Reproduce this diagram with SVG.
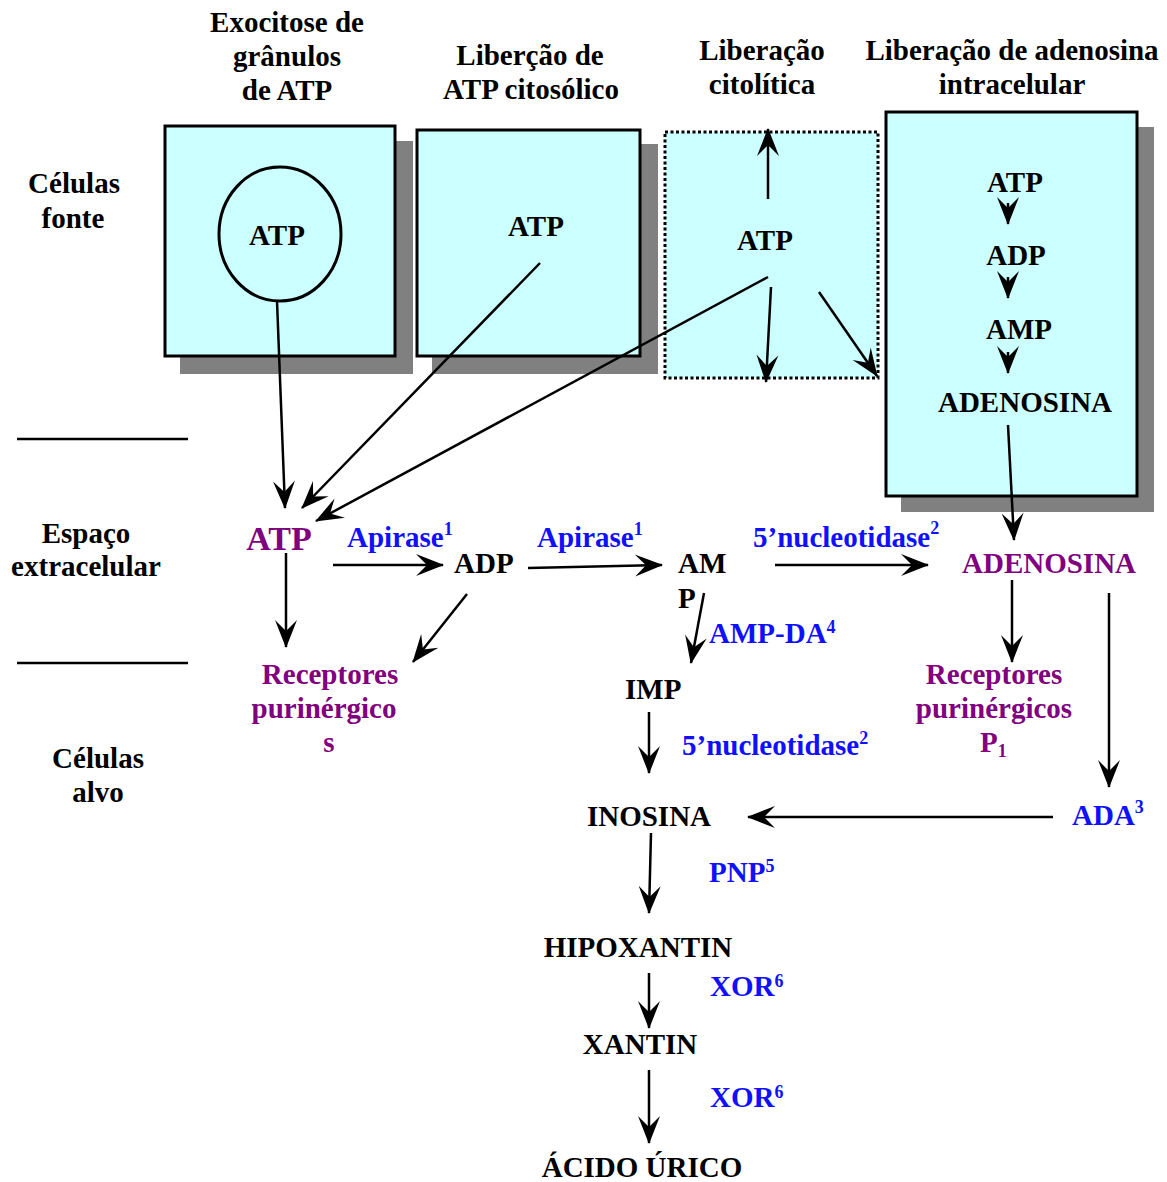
<svg xmlns="http://www.w3.org/2000/svg" width="1167" height="1182" viewBox="0 0 1167 1182">
<defs>
<style>
text{font-family:"Liberation Serif","Times New Roman",serif;font-weight:bold;font-size:29px;fill:#000}
.c{text-anchor:middle}
.b{fill:#1010ff}
.p{fill:#800080}
.sup{font-size:18px}
.box{fill:#ccffff;stroke:#000;stroke-width:3}
.sh{fill:#808080}
.ln{stroke:#000;stroke-width:2.5;fill:none}
.ar{stroke:#000;stroke-width:2.5;fill:none;marker-end:url(#ah)}
</style>
<marker id="ah" markerUnits="userSpaceOnUse" viewBox="-30 -13 32 26" refX="0" refY="0" markerWidth="32" markerHeight="26" orient="auto">
<path d="M1,0 L-27,-11 L-16,0 L-27,11 Z" fill="#000"/>
</marker>
</defs>

<g id="headers">
<text class="c" x="287" y="32">Exocitose de</text>
<text class="c" x="287" y="66">grânulos</text>
<text class="c" x="287" y="100">de ATP</text>
<text class="c" x="530" y="65">Liberção de</text>
<text class="c" x="531" y="99">ATP citosólico</text>
<text class="c" x="762" y="60">Liberação</text>
<text class="c" x="762" y="94">citolítica</text>
<text class="c" x="1012" y="60">Liberação de adenosina</text>
<text class="c" x="1012" y="94">intracelular</text>
</g>

<g id="zone-labels">
<text class="c" x="74" y="193">Células</text>
<text class="c" x="73" y="228">fonte</text>
<text class="c" x="86" y="543">Espaço</text>
<text class="c" x="86" y="576">extracelular</text>
<text class="c" x="98" y="768">Células</text>
<text class="c" x="98" y="802">alvo</text>
<line class="ln" x1="17" y1="439" x2="188" y2="439"/>
<line class="ln" x1="17" y1="663" x2="188" y2="663"/>
</g>

<g id="box-exocitose">
<rect class="sh" x="180" y="141" width="233" height="233"/>
<rect class="box" x="165" y="126" width="230" height="230"/>
<ellipse cx="280" cy="234" rx="61" ry="67" fill="#ccffff" stroke="#000" stroke-width="3"/>
<text class="c" x="277" y="245">ATP</text>
</g>

<g id="box-citosolico">
<rect class="sh" x="432" y="144" width="226" height="230"/>
<rect class="box" x="417" y="130" width="223" height="226"/>
<text class="c" x="536" y="236">ATP</text>
</g>

<g id="box-citolitica">
<rect x="665" y="132" width="213" height="246" fill="#ccffff" stroke="#000" stroke-width="3" stroke-dasharray="3 2.5"/>
<text class="c" x="765" y="250">ATP</text>
</g>

<g id="box-adenosina-intracelular">
<rect class="sh" x="901" y="127" width="253" height="385"/>
<rect class="box" x="886" y="112" width="251" height="384"/>
<text class="c" x="1015" y="192">ATP</text>
<text class="c" x="1016" y="265">ADP</text>
<text class="c" x="1019" y="339">AMP</text>
<text class="c" x="1025" y="412">ADENOSINA</text>
</g>

<g id="extracellular">
<text class="c p" x="279" y="550" style="font-size:34px">ATP</text>
<text class="b" x="347" y="547">Apirase<tspan class="sup" dy="-12">1</tspan></text>
<text x="454" y="573">ADP</text>
<text class="b" x="537" y="547">Apirase<tspan class="sup" dy="-12">1</tspan></text>
<text x="678" y="573">AM</text>
<text x="678" y="608">P</text>
<text class="b" x="753" y="547">5’nucleotidase<tspan class="sup" dy="-13">2</tspan></text>
<text class="p" x="962" y="573">ADENOSINA</text>
</g>

<g id="receptores-p2">
<text class="c p" x="330" y="684">Receptores</text>
<text class="c p" x="324" y="718">purinérgico</text>
<text class="c p" x="329" y="752">s</text>
</g>

<g id="receptores-p1">
<text class="c p" x="994" y="684">Receptores</text>
<text class="c p" x="994" y="718">purinérgicos</text>
<text class="p" x="980" y="752">P<tspan class="sup" dy="5">1</tspan></text>
</g>

<g id="target-pathway">
<text class="b" x="709" y="643">AMP-DA<tspan class="sup" dy="-10">4</tspan></text>
<text x="625" y="699">IMP</text>
<text class="b" x="682" y="755">5’nucleotidase<tspan class="sup" dy="-11">2</tspan></text>
<text class="b" x="1072" y="825">ADA<tspan class="sup" dy="-12">3</tspan></text>
<text class="c" x="649" y="826">INOSINA</text>
<text class="b" x="709" y="882">PNP<tspan class="sup" dy="-10">5</tspan></text>
<text class="c" x="638" y="957">HIPOXANTIN</text>
<text class="b" x="710" y="996">XOR<tspan class="sup" dy="-9">6</tspan></text>
<text class="c" x="640" y="1054">XANTIN</text>
<text class="b" x="710" y="1107">XOR<tspan class="sup" dy="-9">6</tspan></text>
<text class="c" x="642" y="1177">ÁCIDO ÚRICO</text>
</g>

<g id="connectors">
<line class="ar" x1="277" y1="301" x2="285" y2="508"/>
<line class="ar" x1="540" y1="263" x2="302" y2="508"/>
<line class="ar" x1="768" y1="277" x2="316" y2="521"/>
<line class="ar" x1="768" y1="199" x2="768" y2="129"/>
<line class="ar" x1="771" y1="287" x2="766" y2="382"/>
<line class="ar" x1="819" y1="292" x2="877" y2="376"/>
<line class="ar" x1="1008" y1="203" x2="1008" y2="224"/>
<line class="ar" x1="1008" y1="277" x2="1008" y2="298"/>
<line class="ar" x1="1008" y1="352" x2="1008" y2="373"/>
<line class="ar" x1="1008" y1="425" x2="1014" y2="540"/>
<line class="ar" x1="286" y1="553" x2="286" y2="647"/>
<line class="ar" x1="333" y1="565" x2="443" y2="565"/>
<line class="ar" x1="528" y1="568" x2="662" y2="565"/>
<line class="ar" x1="467" y1="594" x2="413" y2="662"/>
<line class="ar" x1="775" y1="565" x2="928" y2="565"/>
<line class="ar" x1="704" y1="593" x2="691" y2="663"/>
<line class="ar" x1="649" y1="712" x2="649" y2="773"/>
<line class="ar" x1="1012" y1="580" x2="1012" y2="662"/>
<line class="ar" x1="1109" y1="593" x2="1109" y2="787"/>
<line class="ar" x1="1053" y1="817" x2="748" y2="817"/>
<line class="ar" x1="651" y1="833" x2="649" y2="913"/>
<line class="ar" x1="649" y1="973" x2="649" y2="1028"/>
<line class="ar" x1="649" y1="1070" x2="649" y2="1143"/>
</g>
</svg>
